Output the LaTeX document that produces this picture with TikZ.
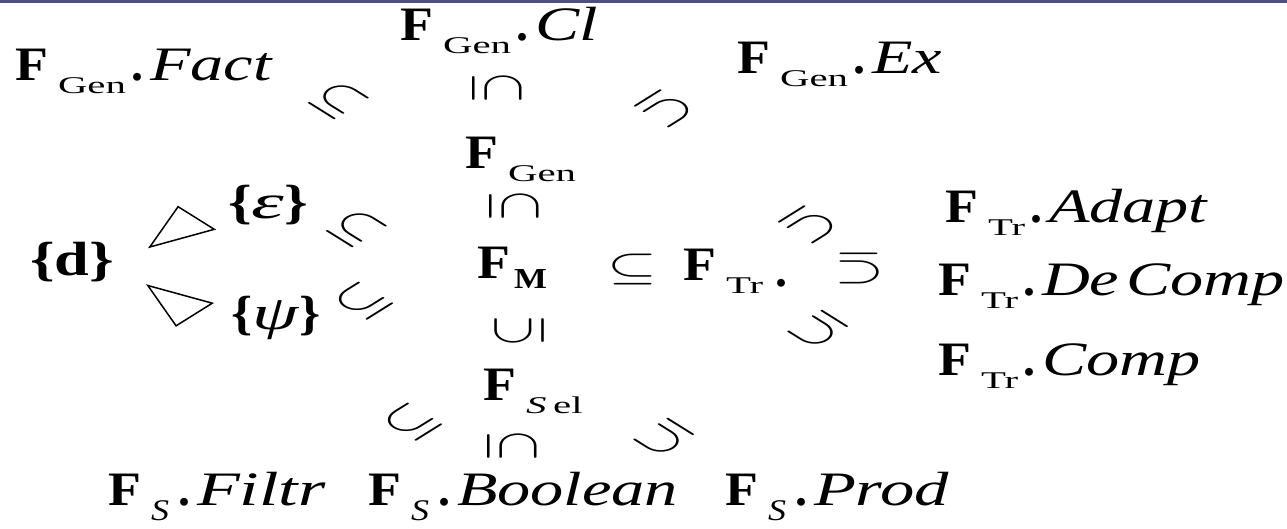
\documentclass[tikz,border=0pt]{standalone}
\usepackage{fontspec}
\setmainfont{Liberation Serif}
\newcommand\bigsz{\fontsize{48}{52}\selectfont}
\newcommand\subsz{\fontsize{24}{26}\selectfont}
\newcommand\Fb{\scalebox{1.12}[1]{\bfseries F}\hspace{10pt}}
\newcommand\Sb[1]{\raisebox{-13pt}{\scalebox{1.7}[1]{\subsz #1}}}
\newcommand\Ss{\raisebox{-15pt}{\scalebox{1.2}[1]{\itshape\fontsize{30}{32}\selectfont S}}\hspace{4pt}}
\newcommand\Dt{\hspace{5pt}{\bfseries .}\hspace{7pt}}
\newcommand\It[1]{\scalebox{1.38}[1]{\itshape\mdseries #1}}
\newcommand\Rel[1]{\scalebox{1.6}[1]{\rotatebox{#1}{\scalebox{1.93}{$\subseteq$}}}}
\definecolor{barcol}{RGB}{80,80,128}
\begin{document}
\begin{tikzpicture}[x=1pt,y=1pt,
  lbl/.style={inner sep=0pt, anchor=base west, font=\bigsz},
  brc/.style={inner sep=0pt, font=\bigsz},
  rel/.style={inner sep=0pt, font=\fontsize{20.74}{22}\selectfont},
  tri/.style={draw=black, line width=1.5pt, line join=miter}]
\useasboundingbox (0,0) rectangle (1287,-528);
\fill[white] (0,0) rectangle (1287,-528);
\fill[barcol] (0,0) rectangle (1287,-3);
% labels
\node[lbl] (fact) at (15,-80) {\Fb\Sb{Gen}\Dt\It{Fact}};
\node[lbl] (cl) at (400,-40) {\Fb\Sb{Gen}\Dt\It{Cl}};
\node[lbl] (ex) at (737,-73) {\Fb\Sb{Gen}\Dt\It{Ex}};
\node[lbl] (gen) at (465,-168) {\Fb\Sb{Gen}};
\node[lbl] (fm) at (477,-278) {\scalebox{1.12}[1]{\bfseries F}\hspace{4pt}\raisebox{-10pt}{\scalebox{1.2}[1]{\fontsize{29}{30}\selectfont\bfseries M}}};
\node[lbl] (ftr) at (683,-280) {\Fb\Sb{Tr}\hspace{12pt}\raisebox{-6pt}{\bfseries .}};
\node[lbl] (adapt) at (945,-222) {\Fb\Sb{Tr}\Dt\It{Adapt}};
\node[lbl] (decomp) at (938,-295) {\Fb\Sb{Tr}\Dt\It{De\hspace{5pt}Comp}};
\node[lbl] (comp) at (938,-375) {\Fb\Sb{Tr}\Dt\It{Comp}};
\node[lbl] (fsel) at (483,-400) {\Fb\Sb{\itshape S\,\upshape el}};
\node[lbl] (filtr) at (108,-505) {\Fb\Ss\Dt\scalebox{1.46}[1]{\itshape Filtr}};
\node[lbl] (bool) at (368,-505) {\Fb\Ss\Dt\It{Boolean}};
\node[lbl] (prod) at (725,-505) {\Fb\Ss\Dt\scalebox{1.43}[1]{\itshape Prod}};
\node[brc] (d) at (72,-262) {\scalebox{1.3}[1]{\bfseries\{d\}}};
\node[brc] (eps) at (268,-205) {\scalebox{1.25}[1]{\bfseries\{\It{ε}\}}};
\node[brc] (psi) at (276,-318) {\scalebox{1.12}[1]{\bfseries\{\It{ψ}\}}};
% relation symbols
\node[rel] (r1) at (338,-100) {\Rel{-45}};
\node[rel] (r2) at (497,-88) {\Rel{-90}};
\node[rel] (r3) at (665,-109) {\Rel{-135}};
\node[rel] (r4) at (514,-206) {\Rel{-90}};
\node[rel] (r5) at (356,-228) {\Rel{-45}};
\node[rel] (r6) at (363,-301) {\Rel{45}};
\node[rel] (r7) at (632,-269) {\Rel{0}};
\node[rel] (r8) at (809,-225) {\Rel{-135}};
\node[rel] (r9) at (860,-269) {\Rel{180}};
\node[rel] (r10) at (819,-330) {\Rel{135}};
\node[rel] (r11) at (519,-331) {\Rel{90}};
\node[rel] (r12) at (512,-446) {\Rel{-90}};
\node[rel] (r13) at (412,-422) {\Rel{45}};
\node[rel] (r14) at (665,-438) {\Rel{135}};
% triangles
\begin{scope}[shift={(173,-232.5)}, xscale=1.6, rotate=45]
  \draw[tri] (-20.5,0) -- (20.5,16) -- (20.5,-16) -- cycle;
\end{scope}
\begin{scope}[shift={(171,-300)}, xscale=1.6, rotate=-45]
  \draw[tri] (-20.5,0) -- (20.5,16) -- (20.5,-16) -- cycle;
\end{scope}
\end{tikzpicture}
\end{document}
